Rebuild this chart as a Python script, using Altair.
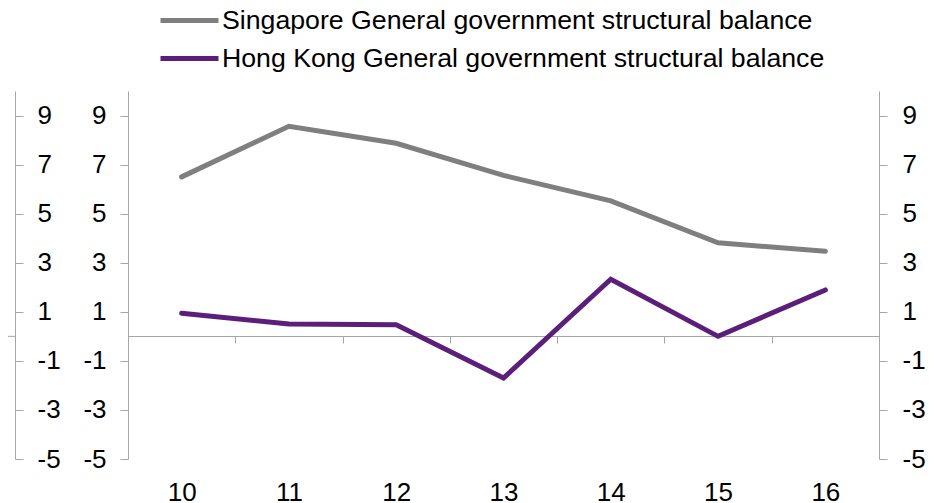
import altair as alt
import pandas as pd

years = [10, 11, 12, 13, 14, 15, 16]
singapore = [6.5, 8.56, 7.87, 6.56, 5.52, 3.81, 3.47]
hong_kong = [0.94, 0.5, 0.47, -1.7, 2.33, 0.0, 1.89]
series_names = [
    "Singapore General government structural balance",
    "Hong Kong General government structural balance",
]
series_colors = ["#7f7f7f", "#5b1f7b"]
y_ticks = [-5, -3, -1, 1, 3, 5, 7, 9]
boundary_ticks = [10.5, 11.5, 12.5, 13.5, 14.5, 15.5]
zero_level = [0]

rows = []
for name, vals in zip(series_names, [singapore, hong_kong]):
    for yr, v in zip(years, vals):
        rows.append({"year": yr, "series": name, "value": v})
df = pd.DataFrame(rows)
zero_df = pd.DataFrame({"zero": zero_level})

FONT = "Liberation Sans"
AXC = "#a6a6a6"
FS = 26

xscale = alt.Scale(domain=[9.5, 16.5], nice=False, zero=False)
yscale = alt.Scale(domain=[-5, 10], nice=False, zero=False)


def yaxis(orient, offset, pad):
    return alt.Axis(
        orient=orient, offset=offset, values=y_ticks, labelExpr="'' + datum.value",
        title=None, grid=False, domainColor=AXC, domainWidth=1, tickColor=AXC,
        tickWidth=1, tickSize=8, labelFont=FONT, labelFontSize=FS,
        labelColor="black", labelPadding=pad, labelOverlap=False, labelFlush=False,
    )


def series_legend(ly):
    return alt.Legend(
        orient="none", legendX=30, legendY=ly, direction="vertical",
        title=None, symbolType="stroke", symbolSize=3364, symbolStrokeWidth=5,
        labelFont=FONT, labelFontSize=26.7, labelColor="black", labelOffset=1,
        padding=0, labelLimit=0,
    )


x_label_axis = alt.Axis(
    orient="bottom", values=years, format="d", title=None, grid=False,
    domain=False, ticks=False, labelFont=FONT, labelFontSize=FS,
    labelColor="black", labelPadding=20, labelFlush=False, labelOverlap=False,
)

line_sg = alt.Chart(df).transform_filter(
    alt.datum.series == series_names[0]
).mark_line(strokeWidth=5, strokeCap="round").encode(
    x=alt.X("year:Q", scale=xscale, axis=x_label_axis),
    y=alt.Y("value:Q", scale=yscale, axis=yaxis("left", 0, 14)),
    color=alt.Color(
        "series:N",
        scale=alt.Scale(domain=[series_names[0]], range=[series_colors[0]]),
        legend=series_legend(-102),
    ),
)

line_hk = alt.Chart(df).transform_filter(
    alt.datum.series == series_names[1]
).mark_line(strokeWidth=5, strokeCap="round").encode(
    x=alt.X("year:Q", scale=xscale, axis=None),
    y=alt.Y("value:Q", scale=yscale, axis=None),
    color=alt.Color(
        "series:N",
        scale=alt.Scale(domain=[series_names[1]], range=[series_colors[1]]),
        legend=series_legend(-64),
    ),
)

ghost_right = alt.Chart(df).mark_point(opacity=0).encode(
    x=alt.X(
        "year:Q", scale=xscale,
        axis=alt.Axis(
            orient="bottom", offset=-123, values=boundary_ticks, labels=False,
            title=None, grid=False, domainColor=AXC, tickColor=AXC, tickSize=7,
        ),
    ),
    y=alt.Y("value:Q", scale=yscale, axis=yaxis("right", 0, 15)),
)

ghost_outer = alt.Chart(df).mark_point(opacity=0).encode(
    x=alt.X("year:Q", scale=xscale, axis=None),
    y=alt.Y("value:Q", scale=yscale, axis=yaxis("right", -864, 14)),
)

segment = alt.Chart(zero_df).mark_rule(color=AXC, strokeWidth=1).encode(
    x=alt.value(-125), x2=alt.value(-113),
    y=alt.Y("zero:Q", scale=yscale, axis=None),
)

chart = (
    alt.layer(line_sg, line_hk, ghost_right, ghost_outer, segment)
    .resolve_axis(x="independent", y="independent")
    .resolve_scale(color="independent")
    .resolve_legend(color="independent")
    .properties(
        width=751, height=368,
        autosize=alt.AutoSizeParams(type="none"),
        padding={"left": 120, "top": 83, "right": 52, "bottom": 43},
    )
    .configure_view(stroke=None)
)

chart.save("out.html", embed_options={"renderer": "svg", "actions": False})
